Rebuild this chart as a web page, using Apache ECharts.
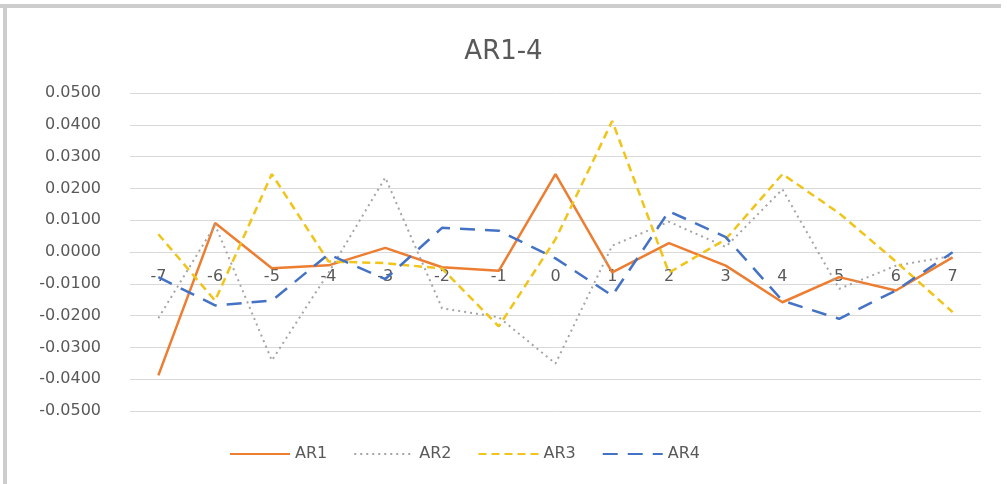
<!DOCTYPE html>
<html>
<head>
<meta charset="utf-8">
<title>AR1-4</title>
<script src="https://cdn.jsdelivr.net/npm/echarts@6/dist/echarts.min.js"></script>
<style>
  html, body { margin: 0; padding: 0; background: #ffffff; }
  #chart { width: 1007px; height: 484px; }
</style>
</head>
<body>
<div id="chart"></div>
<script>
// Event-window days
const days = ['-7', '-6', '-5', '-4', '-3', '-2', '-1', '0', '1', '2', '3', '4', '5', '6', '7'];

// Abnormal returns per day
const ar1 = [-0.0388, 0.0091, -0.0051, -0.0042, 0.0013, -0.0048, -0.0059, 0.0245, -0.0064, 0.0028, -0.0043, -0.0158, -0.0079, -0.0121, -0.0017];
const ar2 = [-0.0208, 0.0085, -0.0341, -0.0065, 0.0234, -0.0177, -0.0205, -0.0351, 0.0020, 0.0095, 0.0016, 0.0197, -0.0116, -0.0043, -0.0012];
const ar3 = [0.0056, -0.0153, 0.0245, -0.0030, -0.0035, -0.0052, -0.0234, 0.0040, 0.0412, -0.0065, 0.0040, 0.0245, 0.0122, -0.0030, -0.0189];
const ar4 = [-0.0079, -0.0168, -0.0153, -0.0007, -0.0085, 0.0076, 0.0067, -0.0020, -0.0137, 0.0128, 0.0047, -0.0153, -0.0210, -0.0121, -0.0001];

const yMin = -0.05;
const yMax = 0.05;
const yStep = 0.01;

const textColor = '#595959';
const gridColor = '#d9d9d9';
const font = 'DejaVu Sans';

const gridTop = 93;
const gridBottom = 73;
const chartHeight = 484;
const plotHeight = chartHeight - gridTop - gridBottom;
// the category axis sits on the zero line, so shift it up from the bottom edge
const zeroOffset = -plotHeight * (0 - yMin) / (yMax - yMin);

const chart = echarts.init(document.getElementById('chart'));

function lineSeries(name, data, color, width, dash) {
  return {
    name: name,
    type: 'line',
    data: data,
    symbol: 'none',
    smooth: false,
    lineStyle: { color: color, width: width, type: dash, cap: 'butt' },
    itemStyle: { color: color }
  };
}

chart.setOption({
  animation: false,
  backgroundColor: '#ffffff',
  title: {
    text: 'AR1-4',
    left: 'center',
    top: 34,
    textStyle: { color: textColor, fontSize: 26, fontWeight: 'normal', fontFamily: font }
  },
  legend: {
    bottom: 17,
    left: 224,
    itemWidth: 60,
    itemHeight: 10,
    itemGap: 26,
    itemStyle: { opacity: 0 },
    textStyle: { color: textColor, fontSize: 16, fontFamily: font },
    data: ['AR1', 'AR2', 'AR3', 'AR4']
  },
  grid: { left: 130, right: 26, top: gridTop, bottom: gridBottom, containLabel: false },
  xAxis: {
    type: 'category',
    data: days,
    boundaryGap: true,
    offset: zeroOffset,
    axisLine: { show: true, onZero: false, lineStyle: { color: gridColor, width: 1 } },
    axisTick: { show: false },
    axisLabel: { color: textColor, fontSize: 16, fontFamily: font, margin: 17 },
    splitLine: { show: false }
  },
  yAxis: {
    type: 'value',
    min: yMin,
    max: yMax,
    interval: yStep,
    axisLine: { show: false },
    axisTick: { show: false },
    axisLabel: {
      color: textColor, fontSize: 16, fontFamily: font, margin: 29,
      formatter: v => v.toFixed(4)
    },
    splitLine: { show: true, lineStyle: { color: gridColor, width: 1 } }
  },
  graphic: [
    { type: 'rect', shape: { x: 0, y: 4, width: 1001, height: 4 }, style: { fill: '#cdcdcd' }, silent: true },
    { type: 'rect', shape: { x: 3, y: 4, width: 4, height: 480 }, style: { fill: '#cdcdcd' }, silent: true }
  ],
  series: [
    lineSeries('AR1', ar1, '#ed7d31', 2.5, 'solid'),
    lineSeries('AR2', ar2, '#a5a5a5', 2, [2, 4]),
    lineSeries('AR3', ar3, '#f0c419', 2.5, [8, 5]),
    lineSeries('AR4', ar4, '#4472c4', 2.5, [15, 10])
  ]
});
</script>
</body>
</html>
